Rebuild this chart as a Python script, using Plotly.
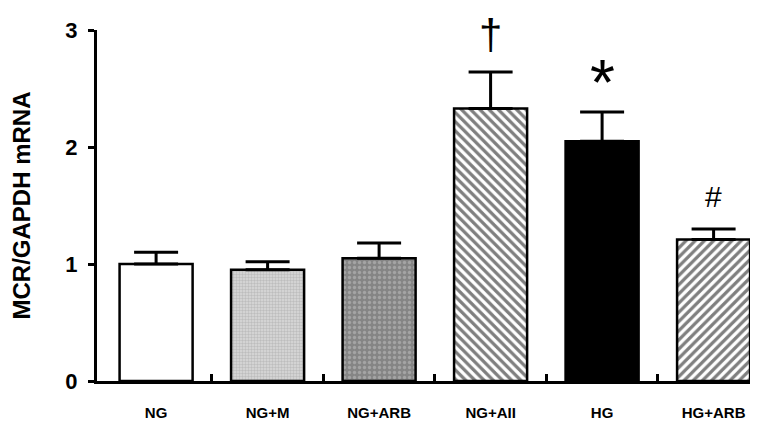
import plotly.graph_objects as go

categories = ["NG", "NG+M", "NG+ARB", "NG+AII", "HG", "HG+ARB"]
values = [1.00, 0.95, 1.05, 2.33, 2.05, 1.21]
errors = [0.10, 0.07, 0.13, 0.31, 0.25, 0.09]
marks = ["", "", "", "†", "*", "#"]
y_ticks = [0, 1, 2, 3]
boundaries = [0.5, 1.5, 2.5, 3.5, 4.5]

bg = ["white", "#dadada", "#858585", "white", "black", "white"]
fg = ["white", "#a0a0a0", "#c4c4c4", "black", "black", "black"]
shapes = ["", ".", ".", "\\", "", "/"]
sizes = [8, 3, 5, 6.5, 8, 6.5]
solid = [0.3, 0.5, 0.35, 0.5, 0.3, 0.5]

FONT = "Arial, Liberation Sans, sans-serif"

fig = go.Figure()
for i, c in enumerate(categories):
    pat = dict(shape=shapes[i], fgcolor=fg[i], size=sizes[i],
               solidity=solid[i], fillmode="overlay")
    fig.add_trace(go.Bar(
        x=[c], y=[values[i]], width=0.655,
        marker=dict(color=bg[i], line=dict(color="black", width=2.5),
                    pattern=pat),
        error_y=dict(type="data", symmetric=False, array=[errors[i]],
                     arrayminus=[0], color="black", thickness=3, width=22),
        showlegend=False, hoverinfo="skip",
    ))

# boundary ticks via overlay axis
fig.add_trace(go.Scatter(x=boundaries, y=[0] * len(boundaries), xaxis="x2",
                         mode="markers", marker=dict(opacity=0),
                         showlegend=False, hoverinfo="skip"))

mark_style = {"†": (42, 12), "*": (64, -9), "#": (30, 14)}
for c, v, e, m in zip(categories, values, errors, marks):
    if not m:
        continue
    fs, ys = mark_style[m]
    fig.add_annotation(x=c, y=v + e, text=m, showarrow=False, yanchor="bottom",
                       yshift=ys, font=dict(family=FONT, size=fs, color="black"))

fig.update_layout(
    width=758, height=423,
    margin=dict(l=89, r=0, t=22, b=50),
    paper_bgcolor="white", plot_bgcolor="white",
    barmode="overlay",
    xaxis=dict(type="category", categoryorder="array", categoryarray=categories,
               range=[-0.53, 5.47], showline=True,
               linecolor="black", linewidth=3, ticks="", showgrid=False,
               tickfont=dict(family=FONT, size=15, color="black", weight="bold"),
               ticklabelstandoff=16, zeroline=False),
    xaxis2=dict(overlaying="x", anchor="y", side="bottom", range=[-0.53, 5.47],
                tickvals=boundaries, ticks="inside", ticklen=7, tickwidth=2.5,
                tickcolor="black", showticklabels=False, showline=False,
                showgrid=False, zeroline=False),
    yaxis=dict(range=[0, 3], tickvals=y_ticks, showline=True, linecolor="black",
               linewidth=3, ticks="outside", ticklen=6, tickwidth=3,
               tickcolor="black", showgrid=False, zeroline=False,
               ticklabelstandoff=6,
               tickfont=dict(family=FONT, size=22, color="black", weight="bold"),
               title=dict(text="MCR/GAPDH mRNA", standoff=30,
                          font=dict(family=FONT, size=24, color="black", weight="bold"))),
)

fig.write_html("out.html")
